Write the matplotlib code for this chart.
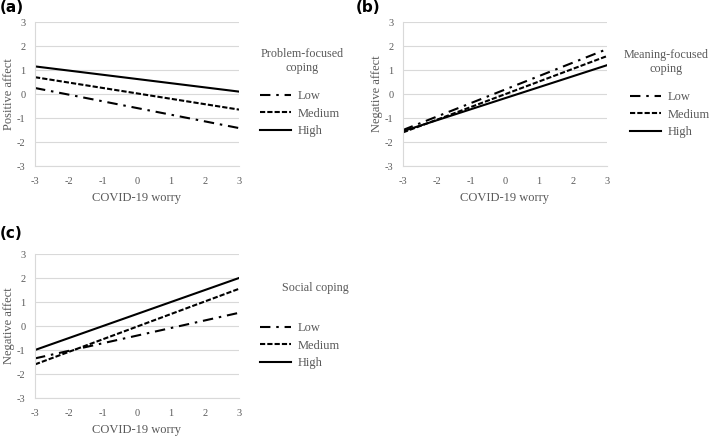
import numpy as np
import matplotlib
matplotlib.use("Agg")
import matplotlib.pyplot as plt

# data: fitted values at worry = -3 and worry = 3
worry = [-3, 3]
levels = ["Low", "Medium", "High"]

pos_problem = {"Low": [0.25, -1.42], "Medium": [0.70, -0.65], "High": [1.15, 0.10]}
neg_meaning = {"Low": [-1.50, 1.87], "Medium": [-1.60, 1.58], "High": [-1.55, 1.20]}
neg_social = {"Low": [-1.35, 0.55], "Medium": [-1.60, 1.55], "High": [-1.00, 2.00]}

ticks = [-3, -2, -1, 0, 1, 2, 3]

styles = {
    "Low": (0, (5, 2.8, 1.2, 2.8)),
    "Medium": (0, (2.5, 1.0)),
    "High": "-",
}

plt.rcParams['font.family'] = ['Liberation Serif', 'DejaVu Serif']
grey = '#595959'
W, H = 709, 436
fig = plt.figure(figsize=(W / 100, H / 100), dpi=100)


def panel(x0, ytop, data, ylabel, title, title_x, title_y, leg_x, leg_y, tag, tag_xy):
    # axes placed in pixel coordinates
    ax = fig.add_axes([x0 / W, (H - ytop - 144) / H, 204 / W, 144 / H])
    for lv in levels:
        ax.plot(worry, data[lv], color='black', lw=1.5, linestyle=styles[lv], label=lv)
    ax.set_xlim(-3, 3)
    ax.set_ylim(-3, 3)
    ax.set_xticks(ticks)
    ax.set_yticks(ticks)
    ax.set_xticklabels([str(t) for t in ticks])
    ax.set_yticklabels([str(t) for t in ticks])
    ax.tick_params(axis='y', length=0, labelsize=7.5, labelcolor=grey, pad=7)
    ax.tick_params(axis='x', length=0, labelsize=7.5, labelcolor=grey, pad=8)
    ax.yaxis.grid(True, color='#d9d9d9', lw=0.8)
    ax.set_axisbelow(True)
    for s in ['top', 'right']:
        ax.spines[s].set_visible(False)
    for s in ['left', 'bottom']:
        ax.spines[s].set_color('#d9d9d9')
        ax.spines[s].set_linewidth(0.8)
    ax.set_xlabel('COVID-19 worry', fontsize=9, color=grey, labelpad=4)
    ax.set_ylabel(ylabel, fontsize=9, color=grey, labelpad=1.5)
    fig.text(title_x / W, 1 - title_y / H, title, ha='center', va='center',
             fontsize=8.7, color=grey, linespacing=1.3)
    ax.legend(loc='upper left', bbox_to_anchor=(leg_x / W, 1 - leg_y / H),
              bbox_transform=fig.transFigure, frameon=False, fontsize=9,
              handlelength=2.5, handletextpad=0.55, labelspacing=0.45,
              labelcolor=grey, borderpad=0, borderaxespad=0)
    fig.text(tag_xy[0] / W, 1 - tag_xy[1] / H, tag, fontsize=11, fontweight='bold',
             family='DejaVu Sans', va='center', ha='left')
    return ax


panel(35, 22, pos_problem, 'Positive affect', 'Problem-focused\ncoping', 302, 61,
      260, 90, "(a)", (0, 8))
panel(403, 22, neg_meaning, 'Negative affect', 'Meaning-focused\ncoping', 666, 62,
      630, 91, "(b)", (356, 8))
panel(35, 254, neg_social, 'Negative affect', 'Social coping', 315, 288,
      260, 322, "(c)", (0, 233))

fig.savefig('out.png', dpi=100)
